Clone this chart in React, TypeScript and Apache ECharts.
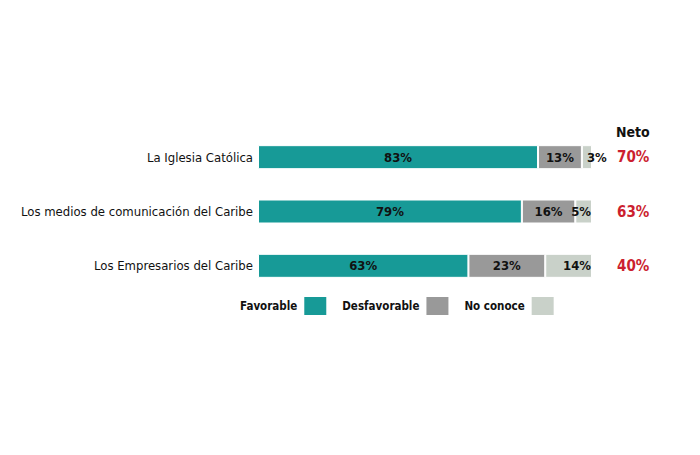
import React, { useEffect, useRef } from "react";
import * as echarts from "echarts";

const categories = [
  "La Iglesia Católica",
  "Los medios de comunicación del Caribe",
  "Los Empresarios del Caribe",
];
const favorable = [83, 79, 63];
const desfavorable = [13, 16, 23];
const noConoce = [3, 5, 14];
const neto = ["70%", "63%", "40%"];
const seriesNames = ["Favorable", "Desfavorable", "No conoce"];
const colors = ["#179a97", "#999999", "#c9d1c9"];

const FONT = "'DejaVu Sans Condensed', 'Liberation Sans Narrow', 'Roboto', sans-serif";

export default function App() {
  const ref = useRef<HTMLDivElement>(null);
  useEffect(() => {
    if (!ref.current) return;
    const chart = echarts.init(ref.current, null, { renderer: "svg" });
    const totals = categories.map((_, i) => favorable[i] + desfavorable[i] + noConoce[i]);
    const norm = (arr: number[]) => arr.map((v, i) => ({ value: (v / totals[i]) * 100, raw: v }));
    const raws = [favorable, desfavorable, noConoce];
    const labelStyle = {
      show: true,
      fontFamily: FONT,
      fontWeight: "bold" as const,
      fontSize: 13,
      color: "#111",
      formatter: (p: any) => p.data.raw + "%",
    };
    const series = raws.map((arr, si) => ({
      name: seriesNames[si],
      type: "bar",
      stack: "total",
      barWidth: 24,
      itemStyle: { color: colors[si], borderColor: "#fff", borderWidth: 1 },
      label:
        si < 2
          ? { ...labelStyle, position: "inside" }
          : { ...labelStyle, position: "insideRight", distance: 1 },
      data: norm(arr).map((d) =>
        si === 2 && d.raw < 5
          ? { ...d, label: { position: "insideLeft", distance: 5 } }
          : d
      ),
    }));
    chart.setOption({
      animation: false,
      grid: {
        left: 258,
        right: 108,
        top: 130,
        height: 163,
        containLabel: false,
        outerBoundsMode: "none",
      },
      xAxis: { type: "value", min: 0, max: 100, show: false },
      yAxis: [
        {
          type: "category",
          data: categories,
          inverse: true,
          axisLine: { show: false },
          axisTick: { show: false },
          axisLabel: { fontFamily: FONT, fontSize: 13, color: "#111", margin: 5 },
        },
        {
          type: "category",
          data: neto,
          inverse: true,
          position: "right",
          axisLine: { show: false },
          axisTick: { show: false },
          axisLabel: {
            fontFamily: FONT,
            fontSize: 15,
            fontWeight: "bold",
            color: "#cc1f2f",
            margin: 25,
          },
        },
      ],
      legend: {
        left: 235,
        top: 290,
        align: "right",
        itemWidth: 24,
        itemHeight: 20,
        itemGap: 14,
        icon: "rect",
        data: seriesNames,
        textStyle: {
          fontFamily: FONT,
          fontSize: 11.5,
          fontWeight: "bold",
          color: "#111",
          padding: [0, 1, 0, 0],
        },
      },
      graphic: [
        {
          type: "text",
          left: 616,
          top: 125,
          style: {
            text: "Neto",
            fontFamily: FONT,
            fontSize: 14,
            fontWeight: "bold",
            fill: "#111",
          },
        },
      ],
      series,
    });
    return () => chart.dispose();
  }, []);
  return (
    <div
      ref={ref}
      style={{ position: "absolute", left: 0, top: 0, width: 700, height: 455 }}
    />
  );
}
